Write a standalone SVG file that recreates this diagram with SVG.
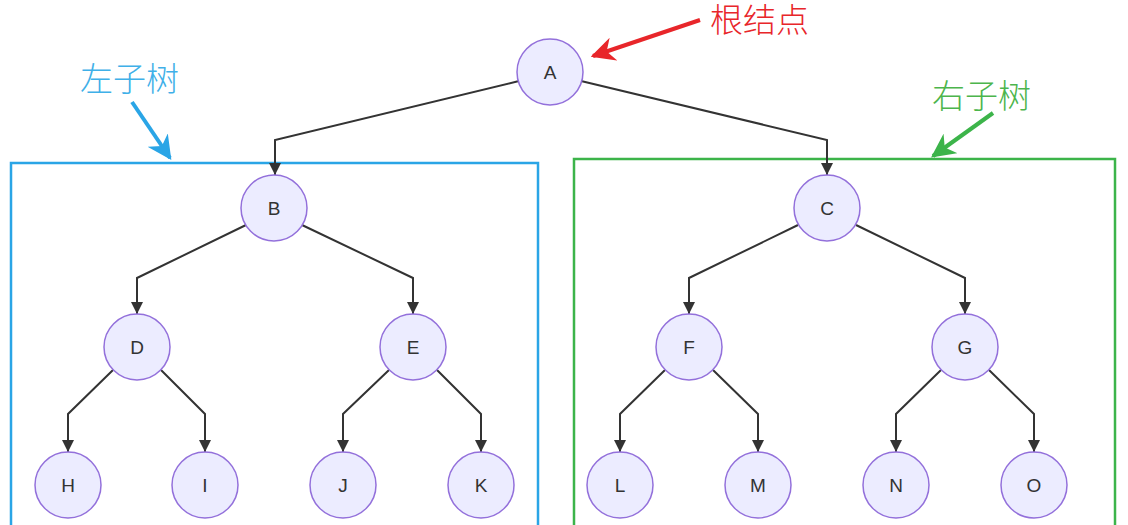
<svg xmlns="http://www.w3.org/2000/svg" width="1128" height="525" viewBox="0 0 1128 525">
<defs>
<style>
.node circle{fill:#ECECFF;stroke:#9370DB;stroke-width:1.5}
.node text{font-family:"Liberation Sans","Noto Sans",Arial,sans-serif;font-size:19px;fill:#333;text-anchor:middle;dominant-baseline:central}
.edge{fill:none;stroke:#333;stroke-width:2}
.ann{font-family:"Noto Sans CJK SC","Noto Sans",sans-serif;font-size:33px;font-weight:300}
</style>
<marker id="arr" viewBox="0 0 10 10" refX="10" refY="5" markerWidth="12" markerHeight="12" markerUnits="userSpaceOnUse" orient="auto">
<path d="M0,0 L10,5 L0,10 z" fill="#333"/>
</marker>
<marker id="redArr" viewBox="0 0 10 10" refX="9" refY="5" markerWidth="6" markerHeight="6" orient="auto">
<path d="M0,0 L10,5 L0,10 L3,5 z" fill="#e8262a"/>
</marker>
<marker id="blueArr" viewBox="0 0 10 10" refX="9" refY="5" markerWidth="6" markerHeight="6" orient="auto">
<path d="M0,0 L10,5 L0,10 L3,5 z" fill="#2aa5e6"/>
</marker>
<marker id="greenArr" viewBox="0 0 10 10" refX="9" refY="5" markerWidth="6" markerHeight="6" orient="auto">
<path d="M0,0 L10,5 L0,10 L3,5 z" fill="#3cb44a"/>
</marker>
</defs>
<rect width="1128" height="525" fill="#fff"/>
<g id="boxes">
<rect x="11" y="163" width="527" height="380" fill="none" stroke="#2aa5e6" stroke-width="2.5"/>
<rect x="574" y="159" width="541" height="384" fill="none" stroke="#3cb44a" stroke-width="2.5"/>
</g>
<g id="annotations">
<text class="ann" x="710" y="32" fill="#e8262a">根结点</text>
<line x1="700" y1="20" x2="593" y2="56" stroke="#e8262a" stroke-width="4" marker-end="url(#redArr)"/>
<text class="ann" x="80" y="91" fill="#3fb0e8">左子树</text>
<line x1="132" y1="102" x2="170" y2="158" stroke="#2aa5e6" stroke-width="4" marker-end="url(#blueArr)"/>
<text class="ann" x="932" y="108" fill="#4cb54c">右子树</text>
<line x1="993" y1="113" x2="933" y2="156" stroke="#3cb44a" stroke-width="4" marker-end="url(#greenArr)"/>
</g>
<g id="connectors">
<path class="edge" d="M519,81 L275,140 L275,175" marker-end="url(#arr)"/>
<path class="edge" d="M581,81 L827,140 L827,175" marker-end="url(#arr)"/>
<path class="edge" d="M246,225 L137,278 L137,314" marker-end="url(#arr)"/>
<path class="edge" d="M302,225 L413,278 L413,314" marker-end="url(#arr)"/>
<path class="edge" d="M798,225 L689,278 L689,314" marker-end="url(#arr)"/>
<path class="edge" d="M856,225 L965,278 L965,314" marker-end="url(#arr)"/>
<path class="edge" d="M113,370 L68,414 L68,452" marker-end="url(#arr)"/>
<path class="edge" d="M161,370 L205,414 L205,452" marker-end="url(#arr)"/>
<path class="edge" d="M389,370 L343,414 L343,452" marker-end="url(#arr)"/>
<path class="edge" d="M437,370 L481,414 L481,452" marker-end="url(#arr)"/>
<path class="edge" d="M665,370 L620,414 L620,452" marker-end="url(#arr)"/>
<path class="edge" d="M713,370 L758,414 L758,452" marker-end="url(#arr)"/>
<path class="edge" d="M941,370 L896,414 L896,452" marker-end="url(#arr)"/>
<path class="edge" d="M989,370 L1034,414 L1034,452" marker-end="url(#arr)"/>
</g>
<g id="A" class="node"><circle cx="550" cy="72" r="33"/><text x="550" y="72">A</text></g>
<g id="B" class="node"><circle cx="274" cy="208" r="33"/><text x="274" y="208">B</text></g>
<g id="C" class="node"><circle cx="827" cy="208" r="33"/><text x="827" y="208">C</text></g>
<g id="D" class="node"><circle cx="137" cy="347" r="33"/><text x="137" y="347">D</text></g>
<g id="E" class="node"><circle cx="413" cy="347" r="33"/><text x="413" y="347">E</text></g>
<g id="F" class="node"><circle cx="689" cy="347" r="33"/><text x="689" y="347">F</text></g>
<g id="G" class="node"><circle cx="965" cy="347" r="33"/><text x="965" y="347">G</text></g>
<g id="H" class="node"><circle cx="68" cy="485" r="33"/><text x="68" y="485">H</text></g>
<g id="I" class="node"><circle cx="205" cy="485" r="33"/><text x="205" y="485">I</text></g>
<g id="J" class="node"><circle cx="343" cy="485" r="33"/><text x="343" y="485">J</text></g>
<g id="K" class="node"><circle cx="481" cy="485" r="33"/><text x="481" y="485">K</text></g>
<g id="L" class="node"><circle cx="620" cy="485" r="33"/><text x="620" y="485">L</text></g>
<g id="M" class="node"><circle cx="758" cy="485" r="33"/><text x="758" y="485">M</text></g>
<g id="N" class="node"><circle cx="896" cy="485" r="33"/><text x="896" y="485">N</text></g>
<g id="O" class="node"><circle cx="1034" cy="485" r="33"/><text x="1034" y="485">O</text></g>
</svg>
